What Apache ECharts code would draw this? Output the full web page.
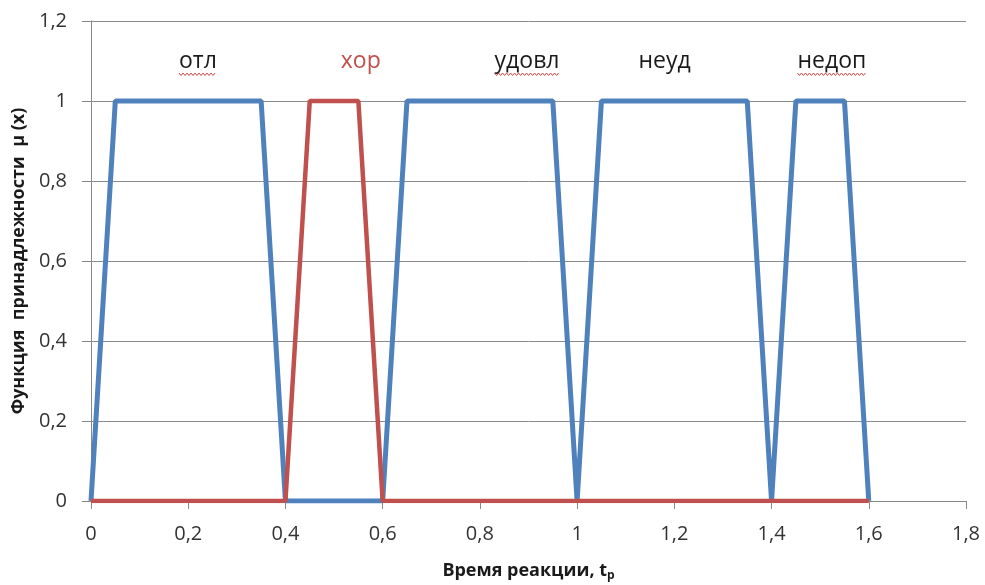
<!DOCTYPE html>
<html>
<head>
<meta charset="utf-8">
<script src="https://cdn.jsdelivr.net/npm/echarts@6/dist/echarts.min.js"></script>
<style>
  html, body { margin: 0; padding: 0; background: #fff; }
  #chart { width: 985px; height: 585px; }
</style>
</head>
<body>
<div id="chart"></div>
<script>
// Membership functions: blue — отл/удовл/неуд/недоп, red — хор
const bluePoints = [
  [0, 0], [0.05, 1], [0.35, 1], [0.4, 0], [0.6, 0], [0.65, 1], [0.95, 1],
  [1.0, 0], [1.05, 1], [1.35, 1], [1.4, 0], [1.45, 1], [1.55, 1], [1.6, 0]
];
const redPoints = [
  [0, 0], [0.4, 0], [0.45, 1], [0.55, 1], [0.6, 0], [1.6, 0]
];

// Term labels above the plateaus: [x, y, text, colour, spell-check underline]
const termLabels = [
  [0.22, 1.1, 'отл', '#1a1a1a', true],
  [0.555, 1.1, 'хор', '#c0504d', false],
  [0.897, 1.1, 'удовл', '#1a1a1a', true],
  [1.18, 1.1, 'неуд', '#1a1a1a', false],
  [1.524, 1.1, 'недоп', '#1a1a1a', true]
];

const xTicks = { min: 0, max: 1.8, interval: 0.2 };
const yTicks = { min: 0, max: 1.2, interval: 0.2 };

const FONT = 'Open Sans';
const fmt = v => String(Math.round(v * 10) / 10).replace('.', ',');

const measureCtx = document.createElement('canvas').getContext('2d');
function textWidth(t, size) {
  measureCtx.font = size + 'px "' + FONT + '"';
  return measureCtx.measureText(t).width;
}

const chart = echarts.init(document.getElementById('chart'), null, { renderer: 'canvas' });

chart.setOption({
  animation: false,
  backgroundColor: '#fff',
  grid: { left: 91, right: 19, top: 21, bottom: 84, outerBoundsMode: 'none', containLabel: false },
  xAxis: {
    type: 'value',
    min: xTicks.min, max: xTicks.max, interval: xTicks.interval,
    name: 'Время реакции, t{sub|p}',
    nameLocation: 'middle',
    nameGap: 59,
    nameTextStyle: {
      fontFamily: FONT, fontSize: 18, fontWeight: 'bold', color: '#1a1a1a',
      rich: {
        sub: { fontFamily: FONT, fontSize: 12, fontWeight: 'bold', color: '#1a1a1a', verticalAlign: 'bottom', padding: [10, 0, 0, 0] }
      }
    },
    axisLine: { show: true, lineStyle: { color: '#888', width: 1 } },
    axisTick: { show: true, length: 8, lineStyle: { color: '#888' } },
    splitLine: { show: false },
    axisLabel: { fontFamily: FONT, fontSize: 20, color: '#333', margin: 23, formatter: fmt }
  },
  yAxis: {
    type: 'value',
    min: yTicks.min, max: yTicks.max, interval: yTicks.interval,
    name: 'Функция  принадлежности  μ (x)',
    nameLocation: 'middle',
    nameGap: 57,
    nameRotate: 90,
    nameTextStyle: { fontFamily: FONT, fontSize: 18, fontWeight: 'bold', color: '#1a1a1a' },
    axisLine: { show: true, lineStyle: { color: '#888', width: 1 } },
    axisTick: { show: true, length: 9, lineStyle: { color: '#888' } },
    splitLine: { show: true, lineStyle: { color: '#8c8c8c', width: 1 } },
    axisLabel: { fontFamily: FONT, fontSize: 20, color: '#333', margin: 24, formatter: fmt }
  },
  series: [
    {
      type: 'line',
      data: bluePoints,
      showSymbol: false,
      lineStyle: { color: '#4f81bd', width: 5 },
      z: 2
    },
    {
      type: 'line',
      data: redPoints,
      showSymbol: false,
      lineStyle: { color: '#c0504d', width: 4.5 },
      z: 3
    },
    {
      type: 'custom',
      data: termLabels,
      z: 4,
      renderItem: function (params, api) {
        const item = termLabels[params.dataIndex];
        const p = api.coord([item[0], item[1]]);
        const size = 23;
        const w = textWidth(item[2], size);
        const children = [{
          type: 'text',
          style: {
            x: p[0], y: p[1], text: item[2],
            fill: item[3], font: size + 'px "' + FONT + '"',
            align: 'center', verticalAlign: 'middle'
          }
        }];
        if (item[4]) {
          const pts = [];
          const x0 = p[0] - w / 2, y0 = p[1] + 12;
          for (let i = 0; i * 2 <= w; i++) {
            pts.push([x0 + i * 2, y0 + (i % 2 === 0 ? 0 : 2.5)]);
          }
          children.push({
            type: 'polyline',
            shape: { points: pts },
            style: { stroke: '#d04848', lineWidth: 1, fill: null }
          });
        }
        return { type: 'group', children: children };
      }
    }
  ]
});
</script>
</body>
</html>
